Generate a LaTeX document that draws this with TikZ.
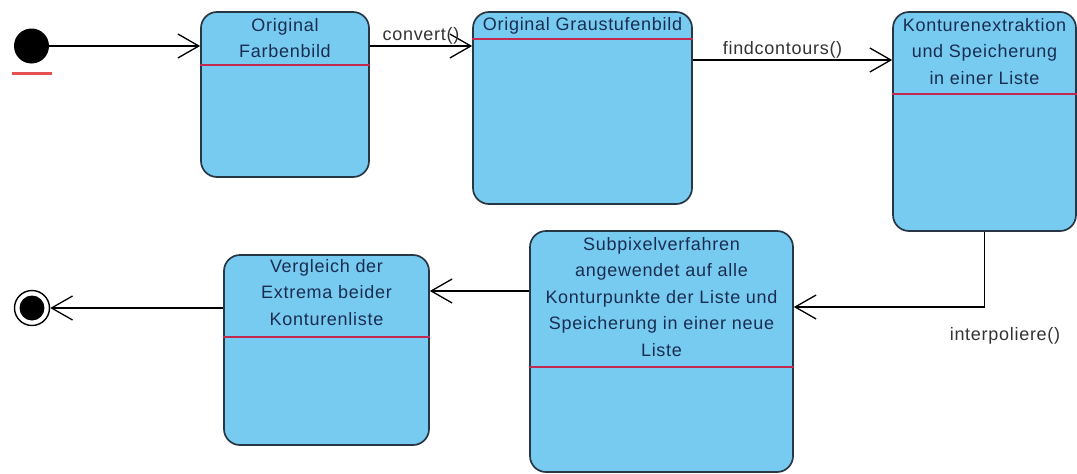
\documentclass[tikz,border=0pt]{standalone}
\usepackage{fontspec}
\setmainfont{Liberation Sans}[LetterSpace=4]
\usepackage{tikz}
\usetikzlibrary{positioning, arrows.meta, calc}
\definecolor{statefill}{RGB}{120,203,240}
\definecolor{stateline}{RGB}{40,55,70}
\definecolor{statetext}{RGB}{25,45,80}
\definecolor{divred}{RGB}{195,40,80}
\definecolor{startred}{RGB}{230,80,80}

\begin{document}
\begin{tikzpicture}[x=1pt, y=-1pt,
  state/.style={rectangle, rounded corners=16pt, draw=stateline, line width=1.7pt, fill=statefill, inner sep=0pt},
  title/.style={font=\fontsize{18}{26.5}\selectfont, text=statetext, align=center, inner sep=0pt},
  divider/.style={draw=divred, line width=2.8pt},
  flow/.style={-{Straight Barb[length=21pt, width=24pt, line width=1.3pt]}, line width=1.3pt},
  lbl/.style={font=\fontsize{18}{22}\selectfont, text=black!80, inner sep=1pt},
  startdot/.style={circle, fill=black, minimum size=35pt, inner sep=0pt},
  enddot/.style={circle, draw=black, line width=1.4pt, fill=white, minimum size=35pt, inner sep=0pt,
    path picture={\fill[black] (path picture bounding box.center) circle (12.5pt);}},
]
  \useasboundingbox (0,0) rectangle (1077,474);

  % pseudo states
  \node[startdot] (start) at (31.5,46) {};
  \draw[startred, line width=2.6pt] ([yshift=-10pt]start.south) ++(-20,0) -- ++(40,0);
  \node[enddot] (ende) at (32,308) {};

  % states
  \node[state, minimum width=168pt, minimum height=165pt] (farb) at (285,94.5) {};
  \draw[divider] (farb.west |- 0,65) -- (farb.east |- 0,65);
  \node[title, below=7pt of farb.north] (farbT) {Original\\Farbenbild};

  \node[state, minimum width=219pt, minimum height=192pt] (grau) at (582.5,108) {};
  \draw[divider] (grau.west |- 0,39) -- (grau.east |- 0,39);
  \node[title, below=6pt of grau.north] (grauT) {Original Graustufenbild};

  \node[state, minimum width=183pt, minimum height=219pt] (kont) at (984.5,121.5) {};
  \draw[divider] (kont.west |- 0,94) -- (kont.east |- 0,94);
  \node[title, below=7pt of kont.north] (kontT) {Konturenextraktion\\und Speicherung\\in einer Liste};

  \node[state, minimum width=263pt, minimum height=241pt] (sub) at (661.5,351.5) {};
  \draw[divider] (sub.west |- 0,367) -- (sub.east |- 0,367);
  \node[title, below=7pt of sub.north] (subT) {Subpixelverfahren\\angewendet auf alle\\Konturpunkte der Liste und\\Speicherung in einer neue\\Liste};

  \node[state, minimum width=205pt, minimum height=190pt] (vergl) at (326.5,350) {};
  \draw[divider] (vergl.west |- 0,337) -- (vergl.east |- 0,337);
  \node[title, below=5pt of vergl.north] (verglT) {Vergleich der\\Extrema beider\\Konturenliste};

  % transitions
  \draw[flow] (start) -- (start -| farb.west);
  \draw[flow] (farb.east |- start) -- (grau.west |- start) node[lbl, midway, above] (convL) {convert()};
  \draw[flow] (grau.east |- 0,60) -- (kont.west |- 0,60) node[lbl, pos=0.45, above] (findL) {findcontours()};
  \coordinate (bend) at (kont.south |- 0,307);
  \draw[flow] (kont.south) -- (bend) -- (bend -| sub.east);
  \node[lbl] (interpL) at (1005,336) {interpoliere()};
  \draw[flow] (sub.west |- 0,291) -- (vergl.east |- 0,291);
  \draw[flow] (vergl.west |- ende) -- (ende);
\end{tikzpicture}
\end{document}
